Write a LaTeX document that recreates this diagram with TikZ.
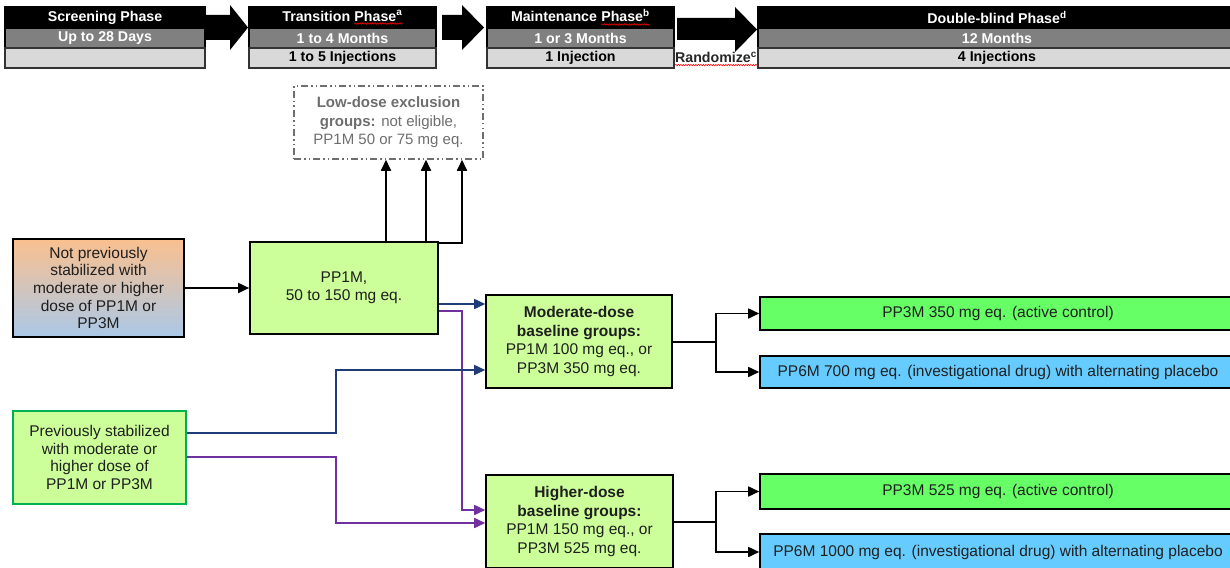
\documentclass[tikz,border=0pt]{standalone}
\usepackage{fontspec}
\setmainfont{Liberation Sans}
\usetikzlibrary{arrows.meta,calc,decorations.pathmorphing}
\definecolor{lgreen}{HTML}{CCFF99}
\definecolor{bgreen}{HTML}{66FF66}
\definecolor{lblue}{HTML}{66CCFF}
\definecolor{hgray}{HTML}{808080}
\definecolor{hlight}{HTML}{D9D9D9}
\definecolor{navy}{HTML}{1F3C78}
\definecolor{purp}{HTML}{7030A0}
\definecolor{dgreen}{HTML}{00B050}
\definecolor{peach}{RGB}{250,192,143}
\definecolor{sky}{RGB}{170,200,232}
\definecolor{exgray}{HTML}{6E6E6E}
\newcommand\rwave[1]{\tikz[baseline=(w.base),x=1pt,y=1pt]{\node[inner sep=0pt,outer sep=0pt,minimum width=0pt,minimum height=0pt,draw=none,fill=none](w){#1};\draw[red,line width=0.6pt,decorate,decoration={snake,amplitude=0.7pt,segment length=2.5pt}] ([yshift=-2.5pt]w.base west) -- ([yshift=-2.5pt]w.base east);}}
\newcommand\hdfont{\fontsize{14.2}{16}\selectfont\bfseries}
\newcommand\bodyfont{\fontsize{15.5}{17.7}\selectfont}
\tikzset{
  hdrA/.style={draw=black,line width=1.2pt,fill=black,text=white,font=\hdfont,minimum height=21pt,inner sep=0pt},
  hdrB/.style={draw=black,line width=1.2pt,fill=hgray,text=white,font=\hdfont,minimum height=20pt,inner sep=0pt},
  hdrC/.style={draw=black!80,line width=1.2pt,fill=hlight,text=black,font=\hdfont,minimum height=20pt,inner sep=0pt},
  bx/.style={draw=black,line width=1.6pt,align=center,font=\bodyfont,text=black!88,inner sep=0pt},
  gbox/.style={bx,fill=lgreen},
  line/.style={line width=1.7pt},
  arr/.style={line width=1.7pt,-{Triangle[length=11pt,width=10pt]}},
  navyarr/.style={arr,draw=navy,-{Triangle[length=11pt,width=10pt,fill=navy]}},
  purparr/.style={arr,draw=purp,-{Triangle[length=11pt,width=10pt,fill=purp]}},
  blockarr/.style={fill=black},
}
\begin{document}
\begin{tikzpicture}[x=1pt,y=-1pt]
\useasboundingbox (0,0) rectangle (1230,567);
\clip (0,0) rectangle (1230,567);
% ---------- header ----------
\node[hdrA,minimum width=200pt] (s1) at (105,17.5) {Screening Phase};
\node[hdrB,minimum width=200pt] (s2) at (105,38) {Up to 28 Days};
\node[hdrC,minimum width=200pt] (s3) at (105,58) {};
\node[hdrA,minimum width=187pt] (t1) at (342.5,17.5) {Transition \rwave{Phase\textsuperscript{a}}};
\node[hdrB,minimum width=187pt] (t2) at (342.5,38) {1 to 4 Months};
\node[hdrC,minimum width=187pt] (t3) at (342.5,58) {1 to 5 Injections};
\node[hdrA,minimum width=187pt] (m1) at (580.5,17.5) {Maintenance \rwave{Phase\textsuperscript{b}}};
\node[hdrB,minimum width=187pt] (m2) at (580.5,38) {1 or 3 Months};
\node[hdrC,minimum width=187pt] (m3) at (580.5,58) {1 Injection};
\node[hdrA,minimum width=478pt] (d1) at (997,17.5) {Double-blind Phase\textsuperscript{d}};
\node[hdrB,minimum width=478pt] (d2) at (997,38) {12 Months};
\node[hdrC,minimum width=478pt] (d3) at (997,58) {4 Injections};
\node[font=\hdfont,text=black!85,inner sep=0pt] (rand) at (716,59) {\rwave{Randomize\textsuperscript{c}}};
% block arrows
\fill[blockarr] (205,15) -- (230,15) -- (230,5) -- (248,27.5) -- (230,50) -- (230,40) -- (205,40) -- cycle;
\fill[blockarr] (442,15) -- (462,15) -- (462,5) -- (484,27.5) -- (462,50) -- (462,40) -- (442,40) -- cycle;
\fill[blockarr] (677,18) -- (735,18) -- (735,7) -- (757,29.5) -- (735,52) -- (735,40) -- (677,40) -- cycle;
% ---------- body nodes ----------
\node[draw=exgray,line width=1.5pt,dash pattern=on 7pt off 3pt on 1.5pt off 3pt on 1.5pt off 3pt,
      minimum width=189pt,minimum height=73pt,align=center,font=\fontsize{15}{18.5}\selectfont,text=exgray,inner sep=0pt]
      (excl) at (388.5,122.5) {\textbf{Low-dose exclusion}\\\textbf{groups:} not eligible,\\PP1M 50 or 75 mg eq.};
\node[bx,top color=peach,bottom color=sky,minimum width=171pt,minimum height=98pt] (notprev) at (98.5,288)
      {Not previously\\stabilized with\\moderate or higher\\dose of PP1M or\\PP3M};
\node[gbox,minimum width=188pt,minimum height=92pt] (pp1m) at (344,288) {PP1M,\\50 to 150 mg eq.};
\node[gbox,draw=dgreen,minimum width=173pt,minimum height=93pt] (prev) at (99.5,457.5)
      {Previously stabilized\\with moderate or\\higher dose of\\PP1M or PP3M};
\node[gbox,minimum width=186pt,minimum height=93pt,font=\fontsize{15.5}{18.4}\selectfont] (mod) at (579,341.5)
      {\textbf{Moderate-dose}\\\textbf{baseline groups:}\\PP1M 100 mg eq., or\\PP3M 350 mg eq.};
\node[gbox,minimum width=187pt,minimum height=93pt,font=\fontsize{15.5}{18.4}\selectfont] (high) at (579.5,521.5)
      {\textbf{Higher-dose}\\\textbf{baseline groups:}\\PP1M 150 mg eq., or\\PP3M 525 mg eq.};
\node[bx,fill=bgreen,minimum width=476pt,minimum height=33pt] (g1) at (998,313.5) {PP3M 350 mg eq. (active control)};
\node[bx,fill=lblue,minimum width=476pt,minimum height=32pt] (b1) at (998,372) {PP6M 700 mg eq. (investigational drug) with alternating placebo};
\node[bx,fill=bgreen,minimum width=476pt,minimum height=35pt] (g2) at (998,491.5) {PP3M 525 mg eq. (active control)};
\node[bx,fill=lblue,minimum width=476pt,minimum height=36pt] (b2) at (998,552) {PP6M 1000 mg eq. (investigational drug) with alternating placebo};
% ---------- connectors ----------
\draw[arr] (notprev) -- (pp1m);
\coordinate (xa) at (386,0);
\coordinate (xb) at (426,0);
\coordinate (xc) at (462,243);
\draw[arr] (pp1m.north -| xa) -- (excl.south -| xa);
\draw[arr] (pp1m.north -| xb) -- (excl.south -| xb);
\draw[arr] (pp1m.east |- xc) -- (xc) -- (excl.south -| xc);
\coordinate (n1) at ([yshift=-16pt]pp1m.east);
\draw[navyarr] (n1) -- (n1 -| mod.west);
\coordinate (p1) at ([yshift=-23pt]pp1m.east);
\coordinate (px) at (462,510);
\draw[purparr] (p1) -| (px) -- (px -| high.west);
\coordinate (nb) at (336,370);
\draw[navyarr] ([yshift=24.5pt]prev.east) -| (nb) -- (nb -| mod.west);
\coordinate (pb) at (336,523);
\coordinate (pe) at ([yshift=0.5pt]prev.east);
\draw[purparr] (pe) -| (pb) -- (pb -| high.west);
\coordinate (jx) at (716,0);
\coordinate (me) at ([yshift=-0.5pt]mod.east);
\coordinate (he) at ([yshift=-0.5pt]high.east);
\draw[line] (me) -- (me -| jx);
\draw[arr] (me -| jx) |- (g1.west);
\draw[arr] (me -| jx) |- (b1.west);
\draw[line] (he) -- (he -| jx);
\draw[arr] (he -| jx) |- (g2.west);
\draw[arr] (he -| jx) |- (b2.west);
\end{tikzpicture}
\end{document}
